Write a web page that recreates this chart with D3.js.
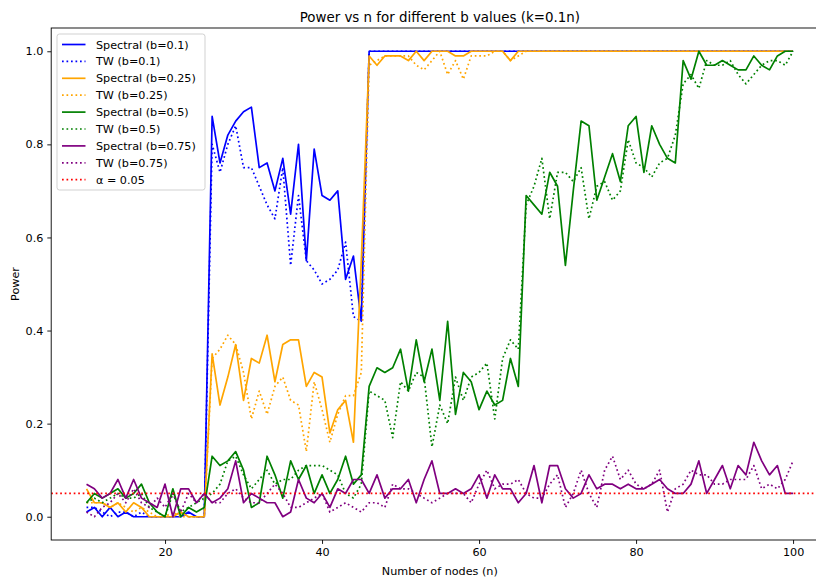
<!DOCTYPE html>
<html>
<head>
<meta charset="utf-8">
<script src="https://cdn.jsdelivr.net/npm/d3@7"></script>
<style>
  body { margin: 0; background: #fff; }
  svg { font-family: "DejaVu Sans", sans-serif; }
</style>
</head>
<body>
<svg id="chart" width="816" height="579"></svg>
<script>
// n = 10 .. 100
const nodes = d3.range(10, 101);

const specB01 = [0.01, 0.02, 0.0, 0.02, 0.0, 0.01, 0.0, 0.0, 0.0, 0.0, 0.0, 0.0, 0.0, 0.01, 0.0, 0.0,
  0.86, 0.76, 0.82, 0.85, 0.87, 0.88, 0.75, 0.76, 0.70, 0.77, 0.65, 0.80, 0.55, 0.79, 0.69, 0.68, 0.70, 0.51, 0.56, 0.42,
  1, 1, 1, 1, 1, 1, 1, 1, 1, 1, 1, 1, 1, 1, 1, 1, 1, 1, 1, 1,
  1, 1, 1, 1, 1, 1, 1, 1, 1, 1, 1, 1, 1, 1, 1, 1, 1, 1, 1, 1,
  1, 1, 1, 1, 1, 1, 1, 1, 1, 1, 1, 1, 1, 1, 1];
const twB01 = [0.02, 0.02, 0.01, 0.0, 0.01, 0.01, 0.0, 0.01, 0.0, 0.0, 0.0, 0.0, 0.01, 0.0, 0.0, 0.0,
  0.80, 0.74, 0.80, 0.84, 0.75, 0.75, 0.71, 0.67, 0.64, 0.75, 0.54, 0.69, 0.55, 0.53, 0.50, 0.51, 0.53, 0.59, 0.43, 0.42,
  1, 1, 1, 1, 1, 1, 1, 1, 1, 1, 1, 1, 1, 1, 1, 1, 1, 1, 1, 1,
  1, 1, 1, 1, 1, 1, 1, 1, 1, 1, 1, 1, 1, 1, 1, 1, 1, 1, 1, 1,
  1, 1, 1, 1, 1, 1, 1, 1, 1, 1, 1, 1, 1, 1, 1];
const specB025 = [0.06, 0.03, 0.03, 0.02, 0.03, 0.01, 0.03, 0.02, 0.0, 0.0, 0.0, 0.0, 0.01, 0.0, 0.0, 0.0,
  0.35, 0.24, 0.30, 0.37, 0.25, 0.34, 0.33, 0.39, 0.29, 0.37, 0.38, 0.38, 0.28, 0.31, 0.30, 0.18, 0.23, 0.25, 0.16, 0.55,
  0.99, 0.97, 0.99, 0.99, 0.99, 0.98, 1.0, 0.98, 1.0, 1.0, 1.0, 0.99, 0.99, 1.0, 1.0, 1.0, 1.0, 1.0, 0.98, 1.0,
  1, 1, 1, 1, 1, 1, 1, 1, 1, 1, 1, 1, 1, 1, 1, 1, 1, 1, 1, 1,
  1, 1, 1, 1, 1, 1, 1, 1, 1, 1, 1, 1, 1, 1, 1];
const twB025 = [0.03, 0.03, 0.03, 0.02, 0.03, 0.02, 0.01, 0.02, 0.01, 0.0, 0.0, 0.01, 0.0, 0.0, 0.0, 0.0,
  0.34, 0.36, 0.39, 0.37, 0.31, 0.21, 0.27, 0.22, 0.28, 0.30, 0.25, 0.24, 0.14, 0.29, 0.23, 0.16, 0.22, 0.26, 0.26, 0.31,
  0.97, 0.98, 0.99, 0.99, 0.99, 0.99, 0.97, 0.96, 0.98, 1.0, 0.95, 0.98, 0.94, 0.99, 0.99, 0.99, 1.0, 1.0, 0.98, 0.99,
  1, 1, 1, 1, 1, 1, 1, 1, 1, 1, 1, 1, 1, 1, 1, 1, 1, 1, 1, 1,
  1, 1, 1, 1, 1, 1, 1, 1, 1, 1, 1, 1, 1, 1, 1];
const specB05 = [0.03, 0.05, 0.04, 0.05, 0.06, 0.04, 0.05, 0.07, 0.03, 0.01, 0.0, 0.06, 0.0, 0.02, 0.01, 0.02,
  0.13, 0.11, 0.12, 0.14, 0.10, 0.02, 0.03, 0.13, 0.09, 0.04, 0.12, 0.08, 0.11, 0.05, 0.09, 0.05, 0.08, 0.13, 0.07, 0.09,
  0.28, 0.32, 0.31, 0.32, 0.36, 0.27, 0.38, 0.29, 0.36, 0.25, 0.42, 0.22, 0.31, 0.29, 0.23, 0.27, 0.24, 0.25, 0.34, 0.28,
  0.69, 0.67, 0.65, 0.74, 0.71, 0.54, 0.70, 0.85, 0.84, 0.68, 0.73, 0.78, 0.72, 0.84, 0.86, 0.74, 0.84, 0.80, 0.77, 0.76,
  0.98, 0.94, 1.0, 0.97, 0.97, 0.98, 0.97, 0.96, 0.96, 0.99, 0.97, 0.96, 0.99, 1.0, 1.0];
const twB05 = [0.03, 0.04, 0.03, 0.04, 0.05, 0.04, 0.04, 0.05, 0.02, 0.01, 0.0, 0.05, 0.01, 0.02, 0.03, 0.04,
  0.05, 0.07, 0.12, 0.13, 0.09, 0.06, 0.08, 0.10, 0.07, 0.08, 0.08, 0.10, 0.11, 0.11, 0.11, 0.10, 0.09, 0.05, 0.04, 0.07,
  0.27, 0.26, 0.25, 0.17, 0.29, 0.27, 0.31, 0.30, 0.15, 0.24, 0.20, 0.30, 0.25, 0.30, 0.31, 0.33, 0.21, 0.34, 0.38, 0.36,
  0.67, 0.71, 0.77, 0.64, 0.74, 0.74, 0.72, 0.75, 0.64, 0.71, 0.72, 0.68, 0.70, 0.81, 0.76, 0.75, 0.73, 0.76, 0.77, 0.82,
  0.93, 0.95, 0.92, 0.98, 0.97, 0.97, 0.98, 0.95, 0.93, 0.95, 0.97, 0.98, 0.98, 0.97, 1.0];
const specB075 = [0.07, 0.06, 0.04, 0.05, 0.08, 0.04, 0.08, 0.04, 0.03, 0.02, 0.07, 0.0, 0.06, 0.06, 0.03, 0.05,
  0.03, 0.04, 0.06, 0.12, 0.03, 0.05, 0.04, 0.03, 0.03, 0.0, 0.01, 0.08, 0.04, 0.03, 0.05, 0.02, 0.06, 0.05, 0.08, 0.08,
  0.05, 0.09, 0.04, 0.06, 0.06, 0.08, 0.03, 0.08, 0.12, 0.05, 0.05, 0.06, 0.05, 0.06, 0.09, 0.04, 0.09, 0.06, 0.06, 0.03,
  0.05, 0.11, 0.03, 0.11, 0.11, 0.06, 0.04, 0.05, 0.09, 0.06, 0.07, 0.07, 0.06, 0.07, 0.06, 0.06, 0.07, 0.08, 0.06, 0.05,
  0.05, 0.07, 0.12, 0.05, 0.08, 0.11, 0.06, 0.11, 0.09, 0.16, 0.12, 0.09, 0.11, 0.05, 0.05];
const twB075 = [0.01, 0.0, 0.02, 0.03, 0.05, 0.03, 0.06, 0.03, 0.02, 0.04, 0.02, 0.05, 0.01, 0.05, 0.03, 0.05,
  0.03, 0.03, 0.05, 0.06, 0.04, 0.03, 0.03, 0.05, 0.07, 0.05, 0.02, 0.02, 0.03, 0.04, 0.05, 0.01, 0.02, 0.03, 0.02, 0.01,
  0.03, 0.03, 0.02, 0.07, 0.06, 0.06, 0.05, 0.04, 0.03, 0.04, 0.05, 0.05, 0.05, 0.03, 0.07, 0.10, 0.06, 0.07, 0.07, 0.08,
  0.05, 0.04, 0.04, 0.07, 0.09, 0.02, 0.05, 0.10, 0.05, 0.02, 0.10, 0.13, 0.08, 0.10, 0.07, 0.06, 0.07, 0.10, 0.01, 0.06,
  0.07, 0.10, 0.09, 0.09, 0.07, 0.07, 0.08, 0.08, 0.08, 0.11, 0.06, 0.07, 0.06, 0.08, 0.12];

const alpha = 0.05;
const xTicks = [20, 40, 60, 80, 100];
const yTicks = [0.0, 0.2, 0.4, 0.6, 0.8, 1.0];

const series = [
  { label: "Spectral (b=0.1)", values: specB01, color: "blue", dotted: false },
  { label: "TW (b=0.1)", values: twB01, color: "blue", dotted: true },
  { label: "Spectral (b=0.25)", values: specB025, color: "orange", dotted: false },
  { label: "TW (b=0.25)", values: twB025, color: "orange", dotted: true },
  { label: "Spectral (b=0.5)", values: specB05, color: "green", dotted: false },
  { label: "TW (b=0.5)", values: twB05, color: "green", dotted: true },
  { label: "Spectral (b=0.75)", values: specB075, color: "purple", dotted: false },
  { label: "TW (b=0.75)", values: twB075, color: "purple", dotted: true }
];

const plotL = 51.2, plotR = 828.4, plotT = 28, plotB = 540;
const lw = 1.7, dots = "1.7,2.8";

// matplotlib-like 5% margins
const x = d3.scaleLinear().domain([5.5, 104.5]).range([plotL, plotR]);
const y = d3.scaleLinear().domain([-0.05, 1.05]).range([plotB, plotT]);

const svg = d3.select("#chart");

svg.append("defs").append("clipPath").attr("id", "plotclip")
  .append("rect").attr("x", plotL).attr("y", plotT)
  .attr("width", plotR - plotL).attr("height", plotB - plotT);

const plot = svg.append("g").attr("clip-path", "url(#plotclip)");

const line = d3.line()
  .x((d, i) => x(nodes[i]))
  .y(d => y(d));

series.forEach(s => {
  plot.append("path")
    .datum(s.values)
    .attr("d", line)
    .attr("fill", "none")
    .attr("stroke", s.color)
    .attr("stroke-width", lw)
    .attr("stroke-linejoin", "round")
    .attr("stroke-dasharray", s.dotted ? dots : null);
});

plot.append("line")
  .attr("x1", plotL).attr("x2", plotR)
  .attr("y1", y(alpha)).attr("y2", y(alpha))
  .attr("stroke", "red")
  .attr("stroke-width", lw)
  .attr("stroke-dasharray", dots);

// axes
const xAxis = d3.axisBottom(x).tickValues(xTicks).tickFormat(d3.format("d"))
  .tickSizeInner(3.9).tickSizeOuter(0).tickPadding(3.9);
const yAxis = d3.axisLeft(y).tickValues(yTicks).tickFormat(d3.format(".1f"))
  .tickSizeInner(3.9).tickSizeOuter(0).tickPadding(3.9);

const gx = svg.append("g").attr("transform", `translate(0,${plotB})`).call(xAxis);
const gy = svg.append("g").attr("transform", `translate(${plotL},0)`).call(yAxis);

[gx, gy].forEach(g => {
  g.select(".domain").remove();
  g.selectAll("text").attr("font-size", 11.2).attr("fill", "#000")
    .attr("font-family", "DejaVu Sans, sans-serif");
  g.selectAll(".tick line").attr("stroke", "#000").attr("stroke-width", 0.9);
});

// spines
svg.append("rect")
  .attr("x", plotL).attr("y", plotT)
  .attr("width", plotR - plotL).attr("height", plotB - plotT)
  .attr("fill", "none").attr("stroke", "#000").attr("stroke-width", 0.9);

// titles
svg.append("text")
  .attr("x", (plotL + plotR) / 2).attr("y", 21.5)
  .attr("text-anchor", "middle").attr("font-size", 13.4)
  .text("Power vs n for different b values (k=0.1n)");

svg.append("text")
  .attr("x", (plotL + plotR) / 2).attr("y", 575)
  .attr("text-anchor", "middle").attr("font-size", 11.2)
  .text("Number of nodes (n)");

svg.append("text")
  .attr("transform", `translate(19,${(plotT + plotB) / 2}) rotate(-90)`)
  .attr("text-anchor", "middle").attr("font-size", 11.2)
  .text("Power");

// legend
const legendItems = series.concat([{ label: "α = 0.05", color: "red", dotted: true }]);
const lg = svg.append("g").attr("transform", "translate(57,34)");
lg.append("rect")
  .attr("x", 0).attr("y", 0).attr("width", 148).attr("height", 156)
  .attr("rx", 2.5).attr("fill", "#fff").attr("fill-opacity", 0.8)
  .attr("stroke", "#ccc").attr("stroke-width", 0.9);

const row = lg.selectAll("g.item").data(legendItems).enter()
  .append("g").attr("class", "item")
  .attr("transform", (d, i) => `translate(0,${10.5 + i * 16.9})`);

row.append("line")
  .attr("x1", 5).attr("x2", 28.5).attr("y1", 0).attr("y2", 0)
  .attr("stroke", d => d.color).attr("stroke-width", lw)
  .attr("stroke-dasharray", d => d.dotted ? dots : null);

row.append("text")
  .attr("x", 39).attr("y", 4)
  .attr("font-size", 11.2)
  .text(d => d.label);
</script>
</body>
</html>
